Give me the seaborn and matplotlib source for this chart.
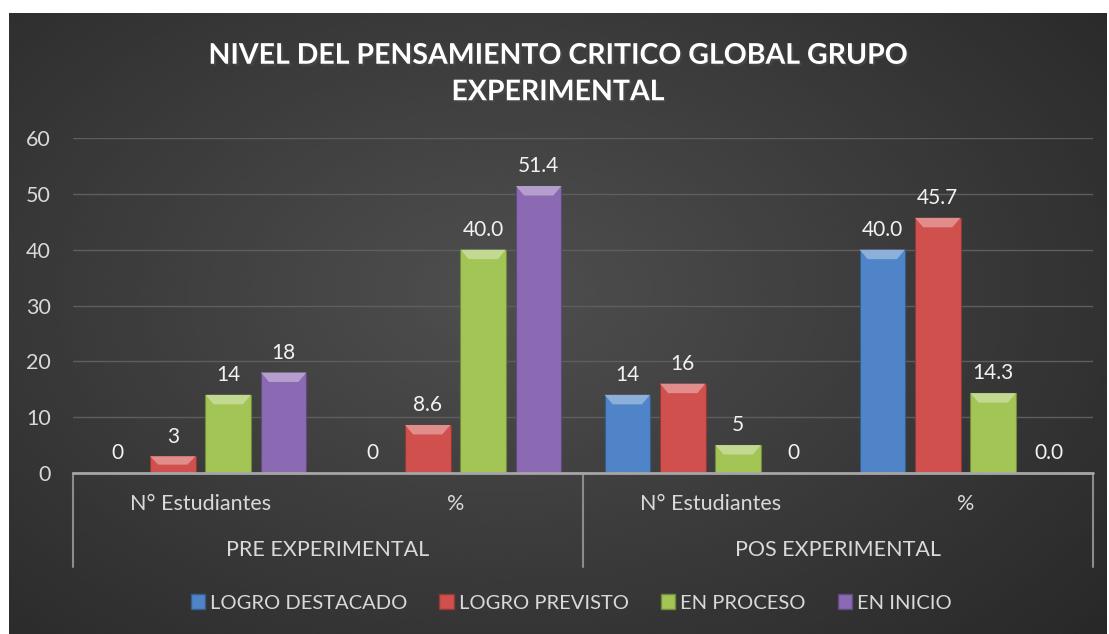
import numpy as np
import pandas as pd
import matplotlib
matplotlib.use('Agg')
import matplotlib.pyplot as plt
import seaborn as sns
from matplotlib.patches import Patch, Polygon
from matplotlib import patheffects
import matplotlib.colors as mcolors
import matplotlib.transforms as mtransforms

# Datos del grafico
grupos = ["PRE EXPERIMENTAL", "POS EXPERIMENTAL"]
medidas = ["N° Estudiantes", "%"]
niveles = ["LOGRO DESTACADO", "LOGRO PREVISTO", "EN PROCESO", "EN INICIO"]

logro_destacado = [0, 0, 14, 40.0]
logro_previsto = [3, 8.6, 16, 45.7]
en_proceso = [14, 40.0, 5, 14.3]
en_inicio = [18, 51.4, 0, 0.0]

# etiquetas tal como aparecen en el grafico
etq_destacado = ["0", "0", "14", "40.0"]
etq_previsto = ["3", "8.6", "16", "45.7"]
etq_proceso = ["14", "40.0", "5", "14.3"]
etq_inicio = ["18", "51.4", "0", "0.0"]

colores = ["#4F85C8", "#D0504D", "#A2C556", "#8B69B3"]
texto = "#D9D9D9"

sns.set_style("dark")
plt.rcParams['font.family'] = ['Lato', 'DejaVu Sans']

# tabla larga para seaborn
categorias = [g + " | " + m for g in grupos for m in medidas]
series = [logro_destacado, logro_previsto, en_proceso, en_inicio]
df = pd.DataFrame({
    'categoria': [c for _ in niveles for c in categorias],
    'nivel': [n for n in niveles for _ in categorias],
    'valor': [v for s in series for v in s],
})

W, H = 1109, 634
fig = plt.figure(figsize=(W / 100, H / 100), dpi=100)
fig.patch.set_facecolor('white')

# fondo con degradado radial
bg = fig.add_axes([9 / W, 0, 1098 / W, 621 / H], zorder=-10)
yy, xx = np.mgrid[0:1:300j, 0:1:500j]
r = np.sqrt(((xx - 0.45) / 0.75) ** 2 + ((yy - 0.45) / 0.85) ** 2)
shade = 0.31 - 0.155 * np.clip(r, 0, 1)
bg.imshow(shade, cmap='gray', vmin=0, vmax=1, aspect='auto', interpolation='bicubic')
bg.set_axis_off()

ax = fig.add_axes([73 / W, (H - 473) / H, 1020 / W, 335 / H])
ax.set_facecolor('none')

sns.barplot(data=df, x='categoria', y='valor', hue='nivel', order=categorias,
            hue_order=niveles, palette=colores, width=0.87, gap=0.18,
            saturation=1, ax=ax, legend=False, zorder=3)

# efecto bisel en las barras
for cont, col in zip(ax.containers, colores):
    claro = mcolors.to_rgb(col)
    claro = tuple(min(1, c + (1 - c) * 0.35) for c in claro)
    oscuro = tuple(c * 0.7 for c in mcolors.to_rgb(col))
    for p in cont.patches:
        p.set_edgecolor(oscuro)
        p.set_linewidth(0.8)
        x, w, h = p.get_x(), p.get_width(), p.get_height()
        if h <= 0:
            continue
        dy = min(1.7, h * 0.5)
        dx = w * 0.18
        ax.add_patch(Polygon([(x, h), (x + w, h), (x + w - dx, h - dy), (x + dx, h - dy)],
                             closed=True, facecolor=claro, edgecolor='none', zorder=4))

for cont, etq in zip(ax.containers, [etq_destacado, etq_previsto, etq_proceso, etq_inicio]):
    ax.bar_label(cont, labels=etq, padding=7, color='#F2F2F2', fontsize=15)

ax.set_xlim(-0.5, 3.5)
ax.set_ylim(0, 60)
ax.set_yticks(range(0, 61, 10))
ax.grid(axis='y', color='#5E5E5E', linewidth=1, zorder=0)
ax.grid(axis='x', visible=False)
for s in ax.spines.values():
    s.set_visible(False)
ax.axhline(0, color='#A6A6A6', linewidth=2, zorder=5, clip_on=False)

ax.set_xticks(range(len(categorias)))
ax.set_xticklabels([m for _ in grupos for m in medidas])
ax.tick_params(axis='x', length=0, pad=15, labelsize=15.5, labelcolor=texto)
ax.tick_params(axis='y', length=0, pad=16, labelsize=15.5, labelcolor=texto)
ax.set_xlabel('')
ax.set_ylabel('')

# eje de dos niveles
trans = mtransforms.blended_transform_factory(ax.transData, ax.transAxes)
for xd in [-0.5, 1.5, 3.5]:
    ax.plot([xd, xd], [0, -0.28], color='#8C8C8C', linewidth=1.5,
            transform=trans, clip_on=False)
for i, g in enumerate(grupos):
    ax.text(2 * i + 0.5, -0.23, g, transform=trans, ha='center', va='center',
            color=texto, fontsize=15.5)

# titulo
fig.text(0.503, 1 - 74 / H, "NIVEL DEL PENSAMIENTO CRITICO GLOBAL GRUPO\nEXPERIMENTAL",
         ha='center', va='center', color='white', fontsize=20.5, fontweight='bold',
         linespacing=1.5,
         path_effects=[patheffects.withSimplePatchShadow(offset=(1.5, -1.5), alpha=0.6)])

# leyenda
handles = [Patch(facecolor=c, edgecolor=tuple(v * 0.7 for v in mcolors.to_rgb(c)), label=n)
           for c, n in zip(colores, niveles)]
fig.legend(handles=handles, loc='center', bbox_to_anchor=(0.515, 1 - 603 / H), ncol=4,
           frameon=False, handlelength=0.7, handleheight=0.7, handletextpad=0.25,
           columnspacing=1.6, labelcolor=texto, fontsize=14.5)

fig.savefig('out.png', dpi=100)
